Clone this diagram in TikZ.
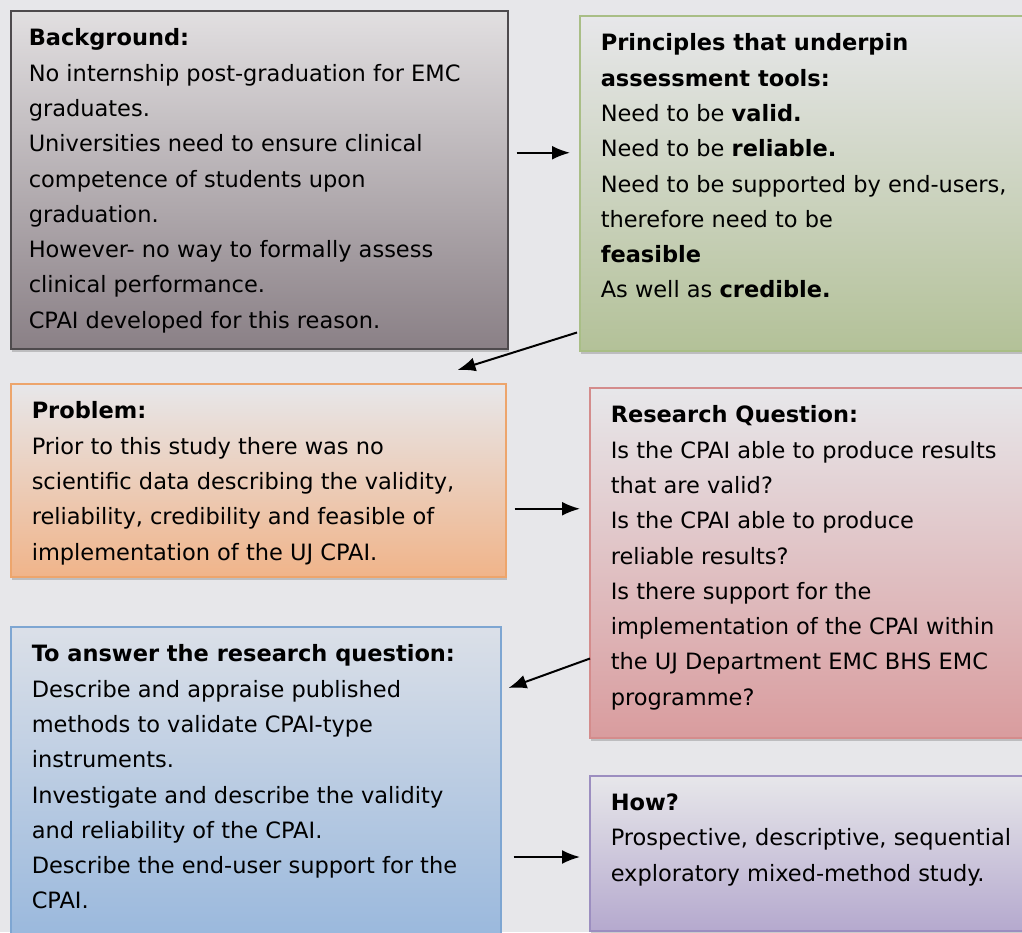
\documentclass[tikz,border=0pt]{standalone}
\usepackage{fontspec}
\setmainfont{DejaVu Sans}
\usetikzlibrary{arrows.meta,positioning,shadows}
\definecolor{paper}{HTML}{E7E7EA}
\definecolor{greyline}{HTML}{4E4A4D}
\definecolor{greylow}{HTML}{8A8086}
\definecolor{greenline}{HTML}{A9BE86}
\definecolor{greenlow}{HTML}{B3C198}
\definecolor{orangeline}{HTML}{EDA56C}
\definecolor{orangelow}{HTML}{F0B48A}
\definecolor{redline}{HTML}{D48C8C}
\definecolor{redlow}{HTML}{D99C9E}
\definecolor{blueline}{HTML}{7EA6D2}
\definecolor{bluelow}{HTML}{96B6DC}
\definecolor{purpleline}{HTML}{9C8EC0}
\definecolor{purplelow}{HTML}{B5A9CE}
\newcommand{\boxtext}[3]{\parbox[t][#1][t]{#2}{\raggedright #3}}

\begin{document}
\begin{tikzpicture}[
  x=1pt,y=-1pt,
  box/.style={anchor=north west,line width=1.5pt,inner xsep=21pt,inner ysep=18pt,
    font=\fontsize{22.5}{35.3}\selectfont,
    drop shadow={opacity=0.4,shadow xshift=1pt,shadow yshift=-3pt}},
  greybox/.style={box,draw=greyline,top color=white!75!greylow,bottom color=greylow,inner xsep=18pt},
  greenbox/.style={box,draw=greenline,top color=paper,bottom color=greenlow},
  orangebox/.style={box,draw=orangeline,top color=paper,bottom color=orangelow},
  redbox/.style={box,draw=redline,top color=paper,bottom color=redlow},
  bluebox/.style={box,draw=blueline,top color=paper!85!bluelow,bottom color=bluelow},
  purplebox/.style={box,draw=purpleline,top color=paper,bottom color=purplelow},
  link/.style={-{Latex[length=18pt,width=14pt]},line width=2pt}
]
  \useasboundingbox[fill=paper] (0,0) rectangle (1022,932);

  \node[greybox] (background) at (10,10) {\boxtext{302pt}{461pt}{%
    \textbf{Background:}\\
    No internship post-graduation for EMC\\
    graduates.\\
    Universities need to ensure clinical\\
    competence of students upon\\
    graduation.\\
    However- no way to formally assess\\
    clinical performance.\\
    CPAI developed for this reason.}};
  \node[greenbox] (principles) at (579,15) {\boxtext{299pt}{428pt}{%
    \textbf{Principles that underpin}\\
    \textbf{assessment tools:}\\
    Need to be \textbf{valid.}\\
    Need to be \textbf{reliable.}\\
    Need to be supported by end-users,\\
    therefore need to be\\
    \textbf{feasible}\\
    As well as \textbf{credible.}}};
  \node[orangebox] (problem) at (10,383) {\boxtext{157pt}{453pt}{%
    \textbf{Problem:}\\
    Prior to this study there was no\\
    scientific data describing the validity,\\
    reliability, credibility and feasible of\\
    implementation of the UJ CPAI.}};
  \node[redbox] (question) at (589,387) {\boxtext{314pt}{418pt}{%
    \textbf{Research Question:}\\
    Is the CPAI able to produce results\\
    that are valid?\\
    Is the CPAI able to produce\\
    reliable results?\\
    Is there support for the\\
    implementation of the CPAI within\\
    the UJ Department EMC BHS EMC\\
    programme?}};
  \node[bluebox] (answer) at (10,626) {\boxtext{294pt}{448pt}{%
    \textbf{To answer the research question:}\\
    Describe and appraise published\\
    methods to validate CPAI-type\\
    instruments.\\
    Investigate and describe the validity\\
    and reliability of the CPAI.\\
    Describe the end-user support for the\\
    CPAI.}};
  \node[purplebox] (how) at (589,775) {\boxtext{119pt}{418pt}{%
    \textbf{How?}\\
    Prospective, descriptive, sequential\\
    exploratory mixed-method study.}};

  % flow between the boxes
  \coordinate (out1) at ([xshift=8pt,yshift=27pt]background.east);
  \coordinate (out3) at ([xshift=8pt,yshift=-28.5pt]problem.east);
  \coordinate (out5) at ([xshift=12pt,yshift=-231pt]answer.north east);
  \draw[link,shorten >=9pt] (out1) -- (out1 -| principles.west);
  \draw[link] ([xshift=-2pt,yshift=19pt]principles.south west) -- ([xshift=-49pt,yshift=13pt]problem.north east);
  \draw[link,shorten >=9pt] (out3) -- (out3 -| question.west);
  \draw[link] ([xshift=1pt,yshift=80pt]question.south west) -- ([xshift=7pt,yshift=-62pt]answer.north east);
  \draw[link,shorten >=9pt] (out5) -- (out5 -| how.west);
\end{tikzpicture}
\end{document}
